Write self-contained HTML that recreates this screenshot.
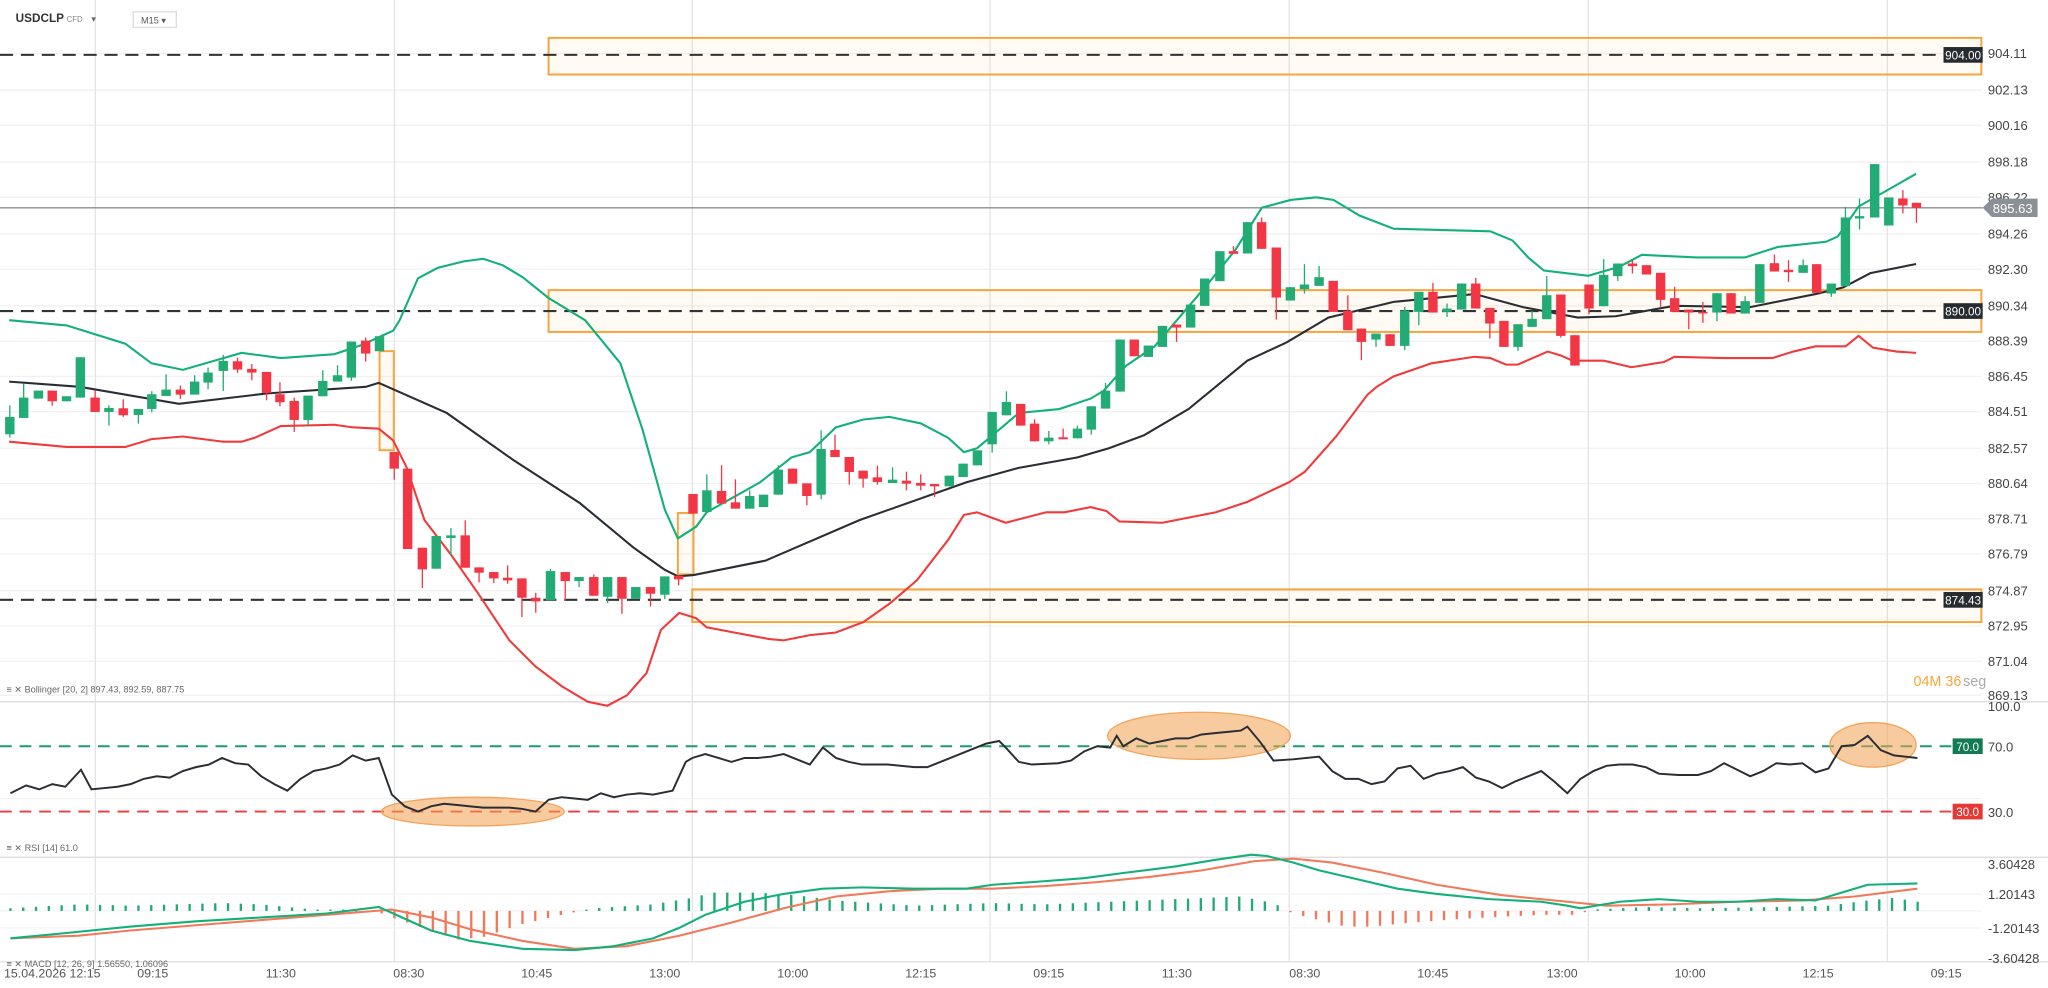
<!DOCTYPE html>
<html><head><meta charset="utf-8">
<style>
html,body{margin:0;padding:0;background:#fff;}
svg{display:block;}
text{font-family:"Liberation Sans",sans-serif;}
</style></head>
<body>
<svg id="s" width="2048" height="988" viewBox="0 0 1568 756" preserveAspectRatio="none" xmlns="http://www.w3.org/2000/svg">
<rect width="1568" height="756" fill="#fff"/>
<g id="grid"></g>
<g id="boxes">
 <rect x="420" y="29" width="1097" height="28" fill="rgba(255,165,40,0.05)" stroke="#f7a43c" stroke-width="1.5"/>
 <rect x="420" y="222" width="1097" height="32" fill="rgba(255,165,40,0.05)" stroke="#f7a43c" stroke-width="1.5"/>
 <rect x="530" y="451" width="987" height="25" fill="rgba(255,165,40,0.05)" stroke="#f7a43c" stroke-width="1.5"/>
 <rect x="290.6" y="268.7" width="10.9" height="75.8" fill="rgba(255,165,40,0.05)" stroke="#f7a43c" stroke-width="1.5"/>
 <rect x="519" y="392.5" width="12" height="47" fill="rgba(255,165,40,0.05)" stroke="#f7a43c" stroke-width="1.5"/>
</g>
<g stroke="#333" stroke-width="1.6" stroke-dasharray="10,6" fill="none">
 <line x1="0" y1="42" x2="1488" y2="42"/>
 <line x1="0" y1="238" x2="1488" y2="238"/>
 <line x1="0" y1="459" x2="1488" y2="459"/>
</g>
<line x1="0" y1="159" x2="1518" y2="159" stroke="#8a8f94" stroke-width="1"/>
<g id="bb" fill="none" stroke-width="1.6"></g>
<g id="candles"></g>
<g id="rsi"></g>
<g id="macd"></g>
<g id="labels"></g>
</svg>
<script>
var NS="http://www.w3.org/2000/svg";
function el(p,t,a,txt){var e=document.createElementNS(NS,t);for(var k in a)e.setAttribute(k,a[k]);if(txt!==undefined)e.textContent=txt;document.getElementById(p).appendChild(e);return e;}
function pts(a){return a.map(function(p){return p[0]+","+p[1]}).join(" ");}
// grid
var pl=[[904.11,41],[902.13,69],[900.16,96],[898.18,124],[896.22,151],[894.26,179],[892.30,206],[890.34,234],[888.39,261],[886.45,288],[884.51,315],[882.57,343],[880.64,370],[878.71,397],[876.79,424],[874.87,452],[872.95,479],[871.04,506],[869.13,532]];
pl.forEach(function(p){el("grid","line",{x1:0,y1:p[1],x2:1517,y2:p[1],stroke:"#f1f1f1","stroke-width":1});});
[73,302,530,758,987,1216,1445].forEach(function(x){el("grid","line",{x1:x,y1:0,x2:x,y2:736,stroke:"#e4e4e4","stroke-width":1});});
el("grid","line",{x1:0,y1:537,x2:1568,y2:537,stroke:"#ddd","stroke-width":1});
el("grid","line",{x1:0,y1:656,x2:1568,y2:656,stroke:"#ddd","stroke-width":1});
el("grid","line",{x1:0,y1:736,x2:1568,y2:736,stroke:"#ddd","stroke-width":1});
[611,684,697,710].forEach(function(y){el("grid","line",{x1:0,y1:y,x2:1517,y2:y,stroke:"#f3f3f3","stroke-width":1});});
// bollinger
var up=[[7,245],[51,249],[96,263],[116,278],[140,283],[185,270],[215,274],[256,271],[277,264],[301,253],[306,245],[320,213],[335,205],[355,200],[370,198],[385,203],[400,212],[420,228],[448,245],[475,278],[492,329],[509,390],[519,412],[533,403],[541,392],[582,369],[606,350],[620,346],[640,327],[661,321],[681,319],[705,324],[726,335],[738,346],[748,343],[760,333],[780,316],[811,313],[835,305],[845,299],[862,280],[884,265],[925,217],[946,191],[966,159],[988,153],[1008,151],[1021,153],[1041,165],[1067,175],[1141,177],[1158,184],[1170,197],[1182,207],[1216,211],[1240,204],[1257,195],[1299,197],[1336,197],[1361,189],[1398,185],[1407,181],[1423,158],[1467,133]];
var mid=[[7,292],[61,296],[137,309],[205,301],[280,296],[290,293],[342,316],[393,352],[444,385],[485,419],[509,436],[519,441],[531,440],[586,429],[658,398],[740,369],[780,358],[825,350],[849,343],[876,333],[910,313],[955,276],[985,262],[1017,243],[1067,231],[1129,225],[1166,235],[1208,243],[1237,242],[1282,234],[1340,235],[1390,225],[1411,220],[1432,209],[1467,202]];
var lo=[[7,338],[51,342],[96,342],[116,336],[140,334],[171,338],[185,338],[195,335],[215,326],[256,325],[270,327],[290,328],[301,337],[311,357],[325,398],[345,424],[366,454],[390,490],[410,510],[430,525],[450,537],[465,540],[480,532],[495,515],[506,482],[520,469],[533,473],[541,480],[562,484],[589,489],[600,490],[620,486],[640,484],[661,476],[681,462],[702,444],[726,413],[738,394],[748,392],[770,400],[801,392],[815,392],[835,388],[847,391],[857,399],[890,400],[931,392],[955,384],[987,369],[999,361],[1023,334],[1047,302],[1054,296],[1067,288],[1096,278],[1129,273],[1141,274],[1153,279],[1162,279],[1185,269],[1195,272],[1204,276],[1228,276],[1249,281],[1274,277],[1282,273],[1320,274],[1357,274],[1373,269],[1390,265],[1413,265],[1423,257],[1434,266],[1452,269],[1467,270]];
el("bb","polyline",{points:pts(up),stroke:"#13b07a"});
el("bb","polyline",{points:pts(mid),stroke:"#2a2e33"});
el("bb","polyline",{points:pts(lo),stroke:"#ef3b3b"});
// candles
var z3=[[22,290,342,"G",255,352],[53,232,293,"G",190],[86,211,235,"G"],[117,211,243,"R",256],[149,228,243,"G"],[180,111,232,"G"],[213,232,275,"R",210],[244,263,275,"G",255,316],[276,264,285,"R",237,290],[310,266,284,"G",310],[340,222,266,"G",213,276],[372,208,227,"G",162],[404,208,223,"R",196,236],[436,184,223,"G",165],[466,157,187,"G",142,207],[500,122,152,"G",104,212],[532,123,148,"R",112,158],[564,146,157,"R",131,180],[597,155,218,"R",240],[627,222,246,"R",186,258],[659,242,299,"R",232,335],[690,226,299,"G",315],[723,182,228,"G",150],[756,165,184,"G",135],[787,64,172,"G",182],[819,61,100,"R",52,124],[850,48,93,"G"],[883,395,445,"R",478],[913,445,686,"R"],[946,682,747,"R",803],[977,647,745,"G"],[1010,645,653,"G",623,705],[1042,645,742,"R",600],[1073,741,757,"R",786],[1106,755,774,"R",788],[1137,772,780,"R",735,790],[1169,774,832,"R",890],[1200,832,843,"R",817,877],[1233,752,840,"G",746],[1266,755,782,"R",840],[1297,770,782,"G",800],[1330,770,826,"R",762],[1361,770,829,"G",848],[1393,770,835,"R",880],[1424,800,835,"G"],[1457,800,820,"R",858],[1489,768,823,"G",836],[1520,766,777,"R",795]];
var z4=[[29,521,580,"R"],[60,510,575,"G",462],[93,512,550,"R",435],[124,546,565,"R",477],[156,527,565,"G",510],[187,523,560,"G"],[220,448,523,"G",435],[252,445,490,"R"],[284,489,527,"R",555],[316,386,523,"G",330,537],[347,389,410,"R",343],[379,410,455,"R",493],[410,451,475,"R",502],[442,471,485,"R",436,493],[476,478,488,"G",441],[507,481,490,"R",454,510],[539,488,496,"R",462,510],[570,491,498,"R",530],[603,466,498,"G"],[634,430,470,"G"],[666,390,435,"G"],[699,275,372,"G",397],[731,245,285,"G",213],[763,251,316,"R"],[794,310,363,"R",297],[826,352,363,"G",332,372],[858,351,357,"R",325],[890,325,354,"G",316],[921,258,328,"G",343],[953,211,265,"G",188]];
var z5=[[37,598,754,"G"],[63,598,648,"R"],[89,616,650,"G"],[115,557,620,"G"],[141,553,562,"R",605],[167,493,562,"G"],[193,415,497,"G"],[221,333,423,"G"],[246,333,341,"R",318],[272,246,340,"G"],[298,246,326,"R",232],[325,322,472,"R",538],[351,441,481,"G"],[377,433,447,"G",372,460],[404,411,437,"G",377],[430,422,515,"R"],[457,512,570,"R",465],[482,565,605,"R",660],[509,580,598,"G",620],[535,582,617,"R"],[562,511,617,"G",500,630],[588,455,515,"G",555],[614,455,517,"R",428],[640,505,515,"G",490,530],[667,430,508,"G"],[693,430,505,"R",413],[719,503,550,"R",595],[745,542,620,"R"],[771,552,620,"G",632],[797,536,560,"G",512],[824,465,537,"G",407],[850,463,587,"R",592],[876,585,676,"R"],[902,433,505,"R",522],[929,404,498,"G",357],[955,370,408,"G",422],[982,370,378,"R",360,400],[1008,375,403,"R"],[1034,398,479,"R",500],[1060,474,515,"R",440],[1086,508,517,"R",567],[1112,515,519,"R",485,548],[1138,459,517,"G",543],[1164,459,520,"R"],[1190,483,520,"G",468],[1217,372,488,"G"],[1244,369,394,"R",343],[1270,389,396,"R",360,425],[1297,375,398,"G",358],[1322,372,458,"R"],[1349,430,460,"G",470],[1375,232,438,"G",200],[1401,228,235,"G",175,268],[1429,72,232,"G"],[1455,172,256,"G"],[1481,175,196,"R",150,220],[1506,188,203,"R",248]];
function draw(arr,fx,fy){arr.forEach(function(c){var x=fx(c[0]);var t=fy(c[1]),b=fy(c[2]);var wt=t,wb=b;for(var i=4;i<c.length;i++){var w=fy(c[i]);if(w<wt)wt=w;if(w>wb)wb=w;}
var col=c[3]=="G"?"#22ab74":"#f23645";
el("candles","line",{x1:x,y1:wt,x2:x,y2:wb,stroke:col,"stroke-width":1});
el("candles","rect",{x:x-3.6,y:t,width:7.2,height:Math.max(1.2,b-t),fill:col});});}
var fyA=function(zy){return (320+zy/3)/1.306;};
draw(z3,function(zx){return zx/2.24/1.306;},fyA);
draw(z4,function(zx){return (680+zx/2.24)/1.306;},fyA);
draw(z5,function(zx){return (1100+zx/1.845)/1.306;},function(zy){return (140+zy/3)/1.306;});
// RSI
el("rsi","line",{x1:0,y1:571,x2:1495,y2:571,stroke:"#1a9e6e","stroke-width":1.5,"stroke-dasharray":"9,6"});
el("rsi","line",{x1:0,y1:621,x2:1495,y2:621,stroke:"#ef3b3b","stroke-width":1.5,"stroke-dasharray":"9,6"});
[[362,621,70,11],[918,563,70,18],[1434,570,33,17]].forEach(function(e){el("rsi","ellipse",{cx:e[0],cy:e[1],rx:e[2],ry:e[3],fill:"rgba(242,160,80,0.55)",stroke:"#f3a45a","stroke-width":1});});
var rs=[[8,607],[20,601],[30,604],[40,600],[50,602],[62,589],[70,604],[80,603],[90,602],[100,600],[110,596],[120,594],[130,595],[140,590],[150,587],[160,585],[170,580],[180,584],[190,585],[200,594],[210,600],[220,605],[230,596],[240,590],[250,588],[260,585],[270,578],[280,582],[290,580],[300,608],[310,617],[320,621],[330,617],[340,615],[350,616],[360,617],[370,618],[380,618],[390,618],[400,619],[410,621],[420,612],[430,610],[440,611],[450,612],[460,607],[470,610],[480,608],[490,607],[500,608],[515,605],[525,583],[530,580],[540,577],[550,580],[560,583],[570,580],[580,580],[590,579],[600,577],[610,581],[620,585],[630,572],[640,580],[650,583],[660,585],[680,585],[700,587],[710,587],[720,583],[740,575],[755,569],[765,567],[770,572],[780,583],[790,585],[810,584],[820,582],[830,575],[840,571],[850,572],[855,563],[860,571],[870,565],[880,569],[890,567],[900,565],[910,565],[920,562],[930,561],[940,560],[950,559],[955,556],[965,568],[975,582],[990,581],[1010,579],[1020,590],[1030,596],[1040,596],[1050,600],[1060,598],[1070,588],[1080,586],[1090,596],[1100,592],[1110,590],[1120,587],[1130,595],[1140,598],[1150,603],[1160,598],[1170,594],[1180,590],[1190,598],[1200,607],[1210,596],[1220,590],[1230,586],[1240,585],[1250,585],[1260,587],[1270,592],[1285,593],[1300,593],[1310,590],[1320,584],[1330,589],[1340,594],[1350,590],[1360,584],[1370,585],[1380,584],[1390,591],[1400,588],[1410,571],[1420,570],[1430,563],[1440,574],[1450,578],[1468,580]];
el("rsi","polyline",{points:pts(rs),fill:"none",stroke:"#2a2e33","stroke-width":1.5});
// MACD histogram
var hv=[[8,2],[60,5],[100,4],[170,6],[200,5],[240,1],[290,-1],[300,-5],[330,-15],[350,-22],[370,-20],[400,-10],[430,-3],[455,2],[500,5],[530,10],[545,14],[580,14],[610,12],[640,8],[700,4],[760,6],[800,5],[850,7],[900,9],[950,11],[975,6],[990,-2],[1010,-7],[1030,-12],[1050,-12],[1080,-9],[1120,-6],[1180,-3],[1205,-3],[1220,1],[1260,3],[1300,2],[1360,3],[1400,4],[1430,8],[1450,10],[1468,7]];
function interp(a,x){for(var i=0;i<a.length-1;i++){if(x>=a[i][0]&&x<=a[i+1][0]){var t=(x-a[i][0])/(a[i+1][0]-a[i][0]);return a[i][1]+t*(a[i+1][1]-a[i][1]);}}return a[a.length-1][1];}
for(var x=8;x<=1470;x+=9.8){var h=interp(hv,x);var col=h>=0?"#22ab74":"#f2785c";if(Math.abs(h)<1)h=h>=0?1:-1;
el("macd","rect",{x:x-0.9,y:h>=0?697-h:697,width:1.8,height:Math.abs(h),fill:col});}
var ml=[[8,718],[50,714],[100,709],[150,705],[200,702],[250,699],[290,694],[310,703],[330,712],[360,720],[400,726],[440,727],[470,724],[500,718],[520,710],[540,700],[570,690],[600,684],[630,680],[660,679],[700,680],[740,680],[760,677],[790,675],[830,672],[860,668],[900,663],[930,658],[958,654],[970,655],[990,660],[1010,666],[1040,673],[1070,680],[1100,684],[1140,688],[1180,690],[1200,693],[1210,695],[1240,690],[1270,688],[1300,690],[1330,690],[1360,688],[1390,689],[1410,683],[1430,677],[1468,676]];
var sg=[[8,718],[60,716],[100,712],[150,708],[200,704],[250,700],[300,696],[330,702],[360,711],[400,720],[440,726],[480,724],[520,716],[560,706],[600,695],[640,686],[680,682],[720,680],[760,680],[800,678],[840,675],[880,671],[920,666],[960,659],[990,657],[1020,660],[1060,668],[1100,677],[1150,685],[1200,690],[1230,693],[1280,692],[1330,690],[1380,689],[1420,686],[1468,680]];
el("macd","polyline",{points:pts(sg),fill:"none",stroke:"#f07a5c","stroke-width":1.6});
el("macd","polyline",{points:pts(ml),fill:"none",stroke:"#13b07a","stroke-width":1.6});
// labels
var L="labels";
pl.forEach(function(p){el(L,"text",{x:1522,y:p[1]+3.5,"font-size":"10","fill":"#444"},p[0].toFixed(2));});
el(L,"rect",{x:1488,y:36,width:30,height:12,fill:"#262b30"});
el(L,"text",{x:1503,y:45.5,"font-size":"9","fill":"#fff","text-anchor":"middle"},"904.00");
el(L,"rect",{x:1488,y:232,width:30,height:12,fill:"#262b30"});
el(L,"text",{x:1503,y:241.5,"font-size":"9","fill":"#fff","text-anchor":"middle"},"890.00");
el(L,"rect",{x:1488,y:453,width:30,height:12,fill:"#262b30"});
el(L,"text",{x:1503,y:462.5,"font-size":"9","fill":"#fff","text-anchor":"middle"},"874.43");
el(L,"polygon",{points:"1518,159 1525,152 1560,152 1560,166 1525,166",fill:"#8a9095"});
el(L,"text",{x:1541,y:163,"font-size":"10","fill":"#fff","text-anchor":"middle"},"895.63");
el(L,"text",{x:1465,y:525,"font-size":"11","fill":"#f7a43c"},"04M 36");
el(L,"text",{x:1503,y:525,"font-size":"11","fill":"#aaa"},"seg");
el(L,"text",{x:1522,y:544,"font-size":"10","fill":"#444"},"100.0");
el(L,"rect",{x:1495,y:565,width:23,height:12,fill:"#127a55"});
el(L,"text",{x:1506.5,y:574.5,"font-size":"9","fill":"#fff","text-anchor":"middle"},"70.0");
el(L,"text",{x:1522,y:575,"font-size":"10","fill":"#444"},"70.0");
el(L,"rect",{x:1495,y:615,width:23,height:12,fill:"#e53935"});
el(L,"text",{x:1506.5,y:624.5,"font-size":"9","fill":"#fff","text-anchor":"middle"},"30.0");
el(L,"text",{x:1522,y:625,"font-size":"10","fill":"#444"},"30.0");
[["3.60428",665],["1.20143",688],["-1.20143",714],["-3.60428",737]].forEach(function(p){el(L,"text",{x:1522,y:p[1],"font-size":"10","fill":"#444"},p[0]);});
el(L,"text",{x:12,y:17,"font-size":"9","fill":"#333","font-weight":"bold"},"USDCLP");
el(L,"text",{x:51,y:17,"font-size":"6","fill":"#888"},"CFD");
el(L,"text",{x:70,y:17,"font-size":"7","fill":"#666"},"▾");
el(L,"rect",{x:102,y:9,width:33,height:12,fill:"#fff",stroke:"#ddd"});
el(L,"text",{x:108,y:18,"font-size":"7","fill":"#555"},"M15 ▾");
el(L,"text",{x:5,y:530,"font-size":"7","fill":"#666"},"≡ ✕ Bollinger [20, 2] 897.43, 892.59, 887.75");
el(L,"text",{x:5,y:651,"font-size":"7","fill":"#666"},"≡ ✕ RSI [14] 61.0");
el(L,"text",{x:5,y:740,"font-size":"7","fill":"#666"},"≡ ✕ MACD [12, 26, 9] 1.56550, 1.06096");
[["15.04.2026 12:15",40],["09:15",117],["11:30",215],["08:30",313],["10:45",411],["13:00",509],["10:00",607],["12:15",705],["09:15",803],["11:30",901],["08:30",999],["10:45",1097],["13:00",1196],["10:00",1294],["12:15",1392],["09:15",1490]].forEach(function(p){el(L,"text",{x:p[1],y:748,"font-size":"9.5","fill":"#555","text-anchor":"middle"},p[0]);});
</script>
</body></html>
